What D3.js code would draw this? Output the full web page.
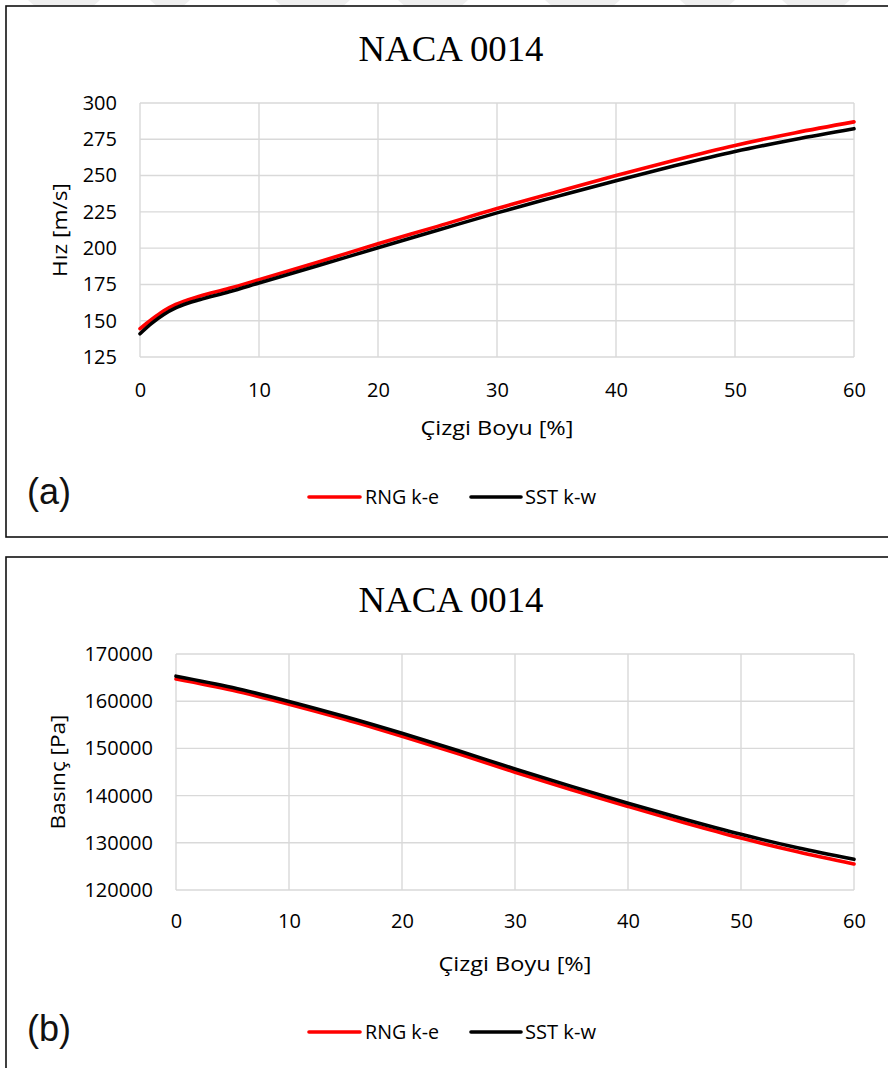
<!DOCTYPE html>
<html><head><meta charset="utf-8">
<script src="https://cdn.jsdelivr.net/npm/d3@7"></script>
<style>body{margin:0;background:#fff}svg{display:block}</style>
</head><body>
<script>
// ---- data ----
const xA = [0,1,2,3,4,5,7.5,10,15,20,25,30,35,40,45,50,55,60];
const rngVel = [144.5,151,156.8,161.2,164.3,166.8,172.3,178.3,190.5,203,215,227.3,238.7,250,260.8,270.8,279.4,287];
const sstVel = [141,148.3,154.3,158.8,162,164.5,170,176,188,200.3,212.3,224.3,235.5,246.5,256.9,266.6,274.9,282.3];
const xB = [0,5,10,15,20,25,30,35,40,45,50,55,60];
const rngPres = [164700,162300,159350,156100,152550,148850,144950,141250,137700,134250,131000,128100,125500];
const sstPres = [165300,162900,159950,156700,153200,149500,145650,141950,138400,135000,131800,128950,126500];
const xTicks = [0,10,20,30,40,50,60];
const velTicks = [125,150,175,200,225,250,275,300];
const presTicks = [120000,130000,140000,150000,160000,170000];
const seriesNames = ["RNG k-e","SST k-w"];
const seriesColors = ["#ff0000","#000000"];
const chartTitle = "NACA 0014";
const xTitle = "Çizgi Boyu [%]";

const W = 888, H = 1068;
const svg = d3.select("body").append("svg").attr("width", W).attr("height", H);

// faint watermark bands at top
const bands = [[28,100],[150,190],[275,350],[398,468],[545,620],[680,735],[782,850]];
svg.selectAll("polygon.wm").data(bands).enter().append("polygon")
  .attr("points", d => `${d[0]},0 ${d[1]},0 ${d[1]-18},16 ${d[0]+18},16`)
  .attr("fill", "#efefef");

function panel(cfg){
  const g = svg.append("g");
  // frame
  g.append("rect").attr("x", 6).attr("y", cfg.top).attr("width", 900).attr("height", cfg.frameH)
    .attr("fill", "#fff").attr("stroke", "#111").attr("stroke-width", 1.6);
  const x = d3.scaleLinear().domain([0,60]).range([cfg.left, 854]);
  const y = d3.scaleLinear().domain(cfg.yDomain).range([cfg.bottom, cfg.plotTop]);
  // grid
  g.append("g").selectAll("line").data(cfg.yTicks).enter().append("line")
    .attr("x1", cfg.left).attr("x2", 854).attr("y1", d => y(d)).attr("y2", d => y(d))
    .attr("stroke", "#d9d9d9").attr("stroke-width", 1.4);
  g.append("g").selectAll("line").data(xTicks).enter().append("line")
    .attr("y1", cfg.plotTop).attr("y2", cfg.bottom).attr("x1", d => x(d)).attr("x2", d => x(d))
    .attr("stroke", "#d9d9d9").attr("stroke-width", 1.4);
  // axes via d3 axis (labels only)
  const ax = g.append("g").attr("transform", `translate(0,${cfg.bottom})`)
    .call(d3.axisBottom(x).tickValues(xTicks).tickSize(0).tickPadding(0).tickFormat(d3.format("d")));
  ax.select(".domain").remove();
  ax.selectAll("text").attr("y", cfg.xLabelDy).attr("dy", null)
    .attr("font-family", "Open Sans").attr("font-size", 20).attr("fill", "#000");
  const ay = g.append("g").attr("transform", `translate(${cfg.left},0)`)
    .call(d3.axisLeft(y).tickValues(cfg.yTicks).tickSize(0).tickPadding(23).tickFormat(d3.format("d")));
  ay.select(".domain").remove();
  ay.selectAll("text").attr("font-family", "Open Sans").attr("font-size", 20).attr("fill", "#000");
  // lines
  const line = d3.line().x(d => x(d[0])).y(d => y(d[1])).curve(d3.curveMonotoneX);
  cfg.series.forEach((s, i) => {
    g.append("path").datum(cfg.xs.map((v, j) => [v, s[j]]))
      .attr("d", line).attr("fill", "none").attr("stroke", seriesColors[i])
      .attr("stroke-width", 3.6).attr("stroke-linecap", "round").attr("stroke-linejoin", "round");
  });
  // title
  g.append("text").attr("x", 451).attr("y", cfg.top + 55).attr("text-anchor", "middle")
    .attr("font-family", "Liberation Serif, Times New Roman, serif").attr("font-size", 35)
    .attr("textLength", 185).attr("lengthAdjust", "spacingAndGlyphs").text(chartTitle);
  // axis titles
  g.append("text").attr("x", (cfg.left + 854) / 2).attr("y", cfg.bottom + cfg.xTitleDy)
    .attr("text-anchor", "middle").attr("font-family", "Open Sans").attr("font-size", 20)
    .attr("fill", "#000").attr("textLength", 153).attr("lengthAdjust", "spacingAndGlyphs").text(xTitle);
  g.append("text").attr("transform", `translate(${cfg.yTitleX},${(cfg.plotTop + cfg.bottom) / 2}) rotate(-90)`)
    .attr("text-anchor", "middle").attr("font-family", "Open Sans").attr("font-size", 20)
    .attr("fill", "#000").attr("textLength", cfg.yTitleLen).attr("lengthAdjust", "spacingAndGlyphs")
    .text(cfg.yTitle);
  // panel letter
  g.append("text").attr("x", 27).attr("y", cfg.letterY).attr("font-family", "Liberation Sans, Arial, sans-serif")
    .attr("font-size", 36).attr("fill", "#111").text(cfg.letter);
  // legend
  const lg = g.append("g");
  const legX = [[309, 360, 365, 78], [471, 521, 525, 75]];
  seriesNames.forEach((n, i) => {
    const [x1, x2, tx, tl] = legX[i];
    lg.append("line").attr("x1", x1).attr("x2", x2).attr("y1", cfg.legendY).attr("y2", cfg.legendY)
      .attr("stroke", seriesColors[i]).attr("stroke-width", 3.6).attr("stroke-linecap", "round");
    lg.append("text").attr("x", tx).attr("y", cfg.legendY + 7).attr("font-family", "Open Sans")
      .attr("font-size", 20).attr("fill", "#000").attr("textLength", tl - 4)
      .attr("lengthAdjust", "spacingAndGlyphs").text(n);
  });
}

panel({top: 6, frameH: 531, left: 140, plotTop: 103, bottom: 357, yDomain: [125, 300], yTicks: velTicks,
  xs: xA, series: [rngVel, sstVel], yTitle: "Hız [m/s]", yTitleX: 67, yTitleLen: 94,
  xLabelDy: 40, xTitleDy: 78, letter: "(a)", letterY: 504, legendY: 497});
panel({top: 557, frameH: 560, left: 176, plotTop: 654, bottom: 890, yDomain: [120000, 170000], yTicks: presTicks,
  xs: xB, series: [rngPres, sstPres], yTitle: "Basınç [Pa]", yTitleX: 65, yTitleLen: 115,
  xLabelDy: 38, xTitleDy: 81, letter: "(b)", letterY: 1041, legendY: 1032});
</script>
</body></html>
